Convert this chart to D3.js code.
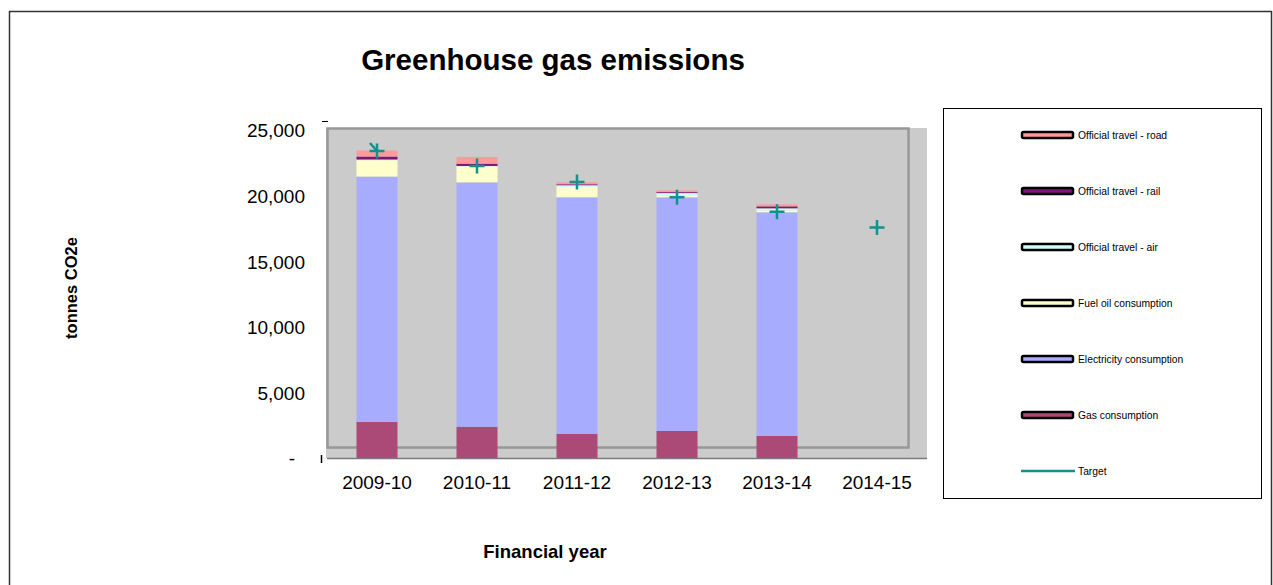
<!DOCTYPE html>
<html>
<head>
<meta charset="utf-8">
<script src="https://cdn.jsdelivr.net/npm/d3@7"></script>
<style>
    body { margin: 0; background: #fff; }
    text { font-family: "Liberation Sans", Arial, sans-serif; }
</style>
</head>
<body>
<div id="chart"></div>
<script>

// Data (tonnes CO2e)
let years = ["2009-10", "2010-11", "2011-12", "2012-13", "2013-14", "2014-15"];

let gas         = [2750, 2390, 1830, 2060, 1680, 0];
let electricity = [18700, 18620, 18040, 17810, 17050, 0];
let fuelOil     = [1250, 1220, 790, 150, 150, 0];
let travelAir   = [50, 30, 130, 170, 150, 0];
let travelRail  = [230, 175, 75, 75, 150, 0];
let travelRoad  = [460, 510, 150, 130, 150, 0];
let target      = [23400, 22250, 21040, 19880, 18760, 17560];

let yTicks = [0, 5000, 10000, 15000, 20000, 25000];

// series, bottom to top of stack
let seriesNames = ["Gas consumption", "Electricity consumption", "Fuel oil consumption",
    "Official travel - air", "Official travel - rail", "Official travel - road"];
let seriesValues = [gas, electricity, fuelOil, travelAir, travelRail, travelRoad];
let seriesColors = ["#ab4a77", "#a8acff", "#ffffcc", "#ccffff", "#7b1775", "#ff9a9a"];
let targetColor = "#12918f";

let width = 1273, height = 585;

let svg = d3.select("#chart").append("svg")
    .attr("width", width)
    .attr("height", height);

// outer chart border
svg.append("path")
    .attr("d", "M9.5,590 V11.5 H1271.5 V590")
    .attr("fill", "none")
    .attr("stroke", "#333")
    .attr("stroke-width", 1.5);

// scales
let x = d3.scaleBand()
    .domain(years)
    .range([327, 927])
    .paddingInner(0.59)
    .paddingOuter(0.295);

let y = d3.scaleLinear()
    .domain([0, 25000])
    .range([458, 130]);

// plot background (wall)
svg.append("rect")
    .attr("x", 326)
    .attr("y", 128)
    .attr("width", 601)
    .attr("height", y(0) - 128)
    .attr("fill", "#cbcbcb");

// wall frame
svg.append("rect")
    .attr("x", 327.5)
    .attr("y", 128.5)
    .attr("width", 581)
    .attr("height", 319)
    .attr("fill", "none")
    .attr("stroke", "#989898")
    .attr("stroke-width", 2.5);

// build stack table
let table = years.map((yr, i) => {
    let row = {year: yr};
    seriesNames.forEach((s, j) => row[s] = seriesValues[j][i]);
    return row;
});

let stacked = d3.stack().keys(seriesNames)(table);

svg.append("g")
    .selectAll("g")
    .data(stacked)
    .join("g")
    .attr("fill", (d, i) => seriesColors[i])
    .selectAll("rect")
    .data(d => d)
    .join("rect")
    .attr("x", d => x(d.data.year))
    .attr("width", x.bandwidth())
    .attr("y", d => y(d[1]))
    .attr("height", d => y(d[0]) - y(d[1]));

// x axis line
svg.append("line")
    .attr("x1", 327).attr("x2", 927)
    .attr("y1", y(0) + 0.5).attr("y2", y(0) + 0.5)
    .attr("stroke", "#7a7a7a")
    .attr("stroke-width", 1.5);

// y axis
let yAxis = d3.axisLeft(y)
    .tickValues(yTicks)
    .tickSize(0)
    .tickPadding(0)
    .tickFormat(d => d === 0 ? "-" : d3.format(",")(d));

let yAxisG = svg.append("g")
    .attr("transform", "translate(305,0)")
    .call(yAxis);
yAxisG.select(".domain").remove();
yAxisG.selectAll("text")
    .attr("font-size", 19)
    .attr("fill", "#000")
    .attr("dy", "0.36em")
    .attr("dx", d => d === 0 ? -10 : 0);

// small tick remnants of the y axis
svg.append("line")
    .attr("x1", 322).attr("x2", 328)
    .attr("y1", y(25000) - 8.5).attr("y2", y(25000) - 8.5)
    .attr("stroke", "#000");
svg.append("line")
    .attr("x1", 321.5).attr("x2", 321.5)
    .attr("y1", y(0) - 3).attr("y2", y(0) + 5)
    .attr("stroke", "#000")
    .attr("stroke-width", 1.5);

// x axis labels
let xAxis = d3.axisBottom(x).tickSize(0).tickPadding(0);
let xAxisG = svg.append("g")
    .attr("transform", "translate(0," + (y(0) + 17) + ")")
    .call(xAxis);
xAxisG.select(".domain").remove();
xAxisG.selectAll("text")
    .attr("font-size", 19)
    .attr("fill", "#000");

// target markers
let targetG = svg.append("g")
    .attr("stroke", targetColor)
    .attr("stroke-width", 2.5);

targetG.selectAll("path.plus")
    .data(target)
    .join("path")
    .attr("class", "plus")
    .attr("d", (d, i) => {
        let cx = x(years[i]) + x.bandwidth() / 2, cy = y(d);
        return `M${cx - 7.5},${cy} H${cx + 7.5} M${cx},${cy - 7.5} V${cy + 7.5}`;
    });

// stray start of the target line at the first point
targetG.append("line")
    .attr("x1", x(years[0]) + x.bandwidth() / 2 - 7)
    .attr("y1", y(target[0]) - 8)
    .attr("x2", x(years[0]) + x.bandwidth() / 2)
    .attr("y2", y(target[0]));

// title
svg.append("text")
    .attr("x", 553)
    .attr("y", 70)
    .attr("text-anchor", "middle")
    .attr("font-size", 29.5)
    .attr("font-weight", "bold")
    .text("Greenhouse gas emissions");

// axis titles
svg.append("text")
    .attr("transform", "translate(77,288) rotate(-90)")
    .attr("text-anchor", "middle")
    .attr("font-size", 16.5)
    .attr("font-weight", "bold")
    .text("tonnes CO2e");

svg.append("text")
    .attr("x", 545)
    .attr("y", 558)
    .attr("text-anchor", "middle")
    .attr("font-size", 18.5)
    .attr("font-weight", "bold")
    .text("Financial year");

// legend
let legend = svg.append("g");
legend.append("rect")
    .attr("x", 943.5)
    .attr("y", 108.5)
    .attr("width", 318)
    .attr("height", 390)
    .attr("fill", "#fff")
    .attr("stroke", "#000");

let legendItems = seriesNames.map((s, i) => ({name: s, color: seriesColors[i]})).reverse();
legendItems.push({name: "Target", color: targetColor, line: true});

let item = legend.selectAll("g.item")
    .data(legendItems)
    .join("g")
    .attr("class", "item")
    .attr("transform", (d, i) => `translate(1021,${135 + i * 56})`);

item.filter(d => !d.line).append("rect")
    .attr("x", 1).attr("y", -3)
    .attr("width", 51).attr("height", 6)
    .attr("rx", 1.5)
    .attr("fill", d => d.color)
    .attr("stroke", "#000")
    .attr("stroke-width", 2.5);

item.filter(d => d.line).append("line")
    .attr("x1", 0).attr("x2", 54)
    .attr("y1", 0).attr("y2", 0)
    .attr("stroke", d => d.color)
    .attr("stroke-width", 2.5);

item.append("text")
    .attr("x", 57)
    .attr("dy", "0.35em")
    .attr("font-size", 10.3)
    .text(d => d.name);

</script>
</body>
</html>
